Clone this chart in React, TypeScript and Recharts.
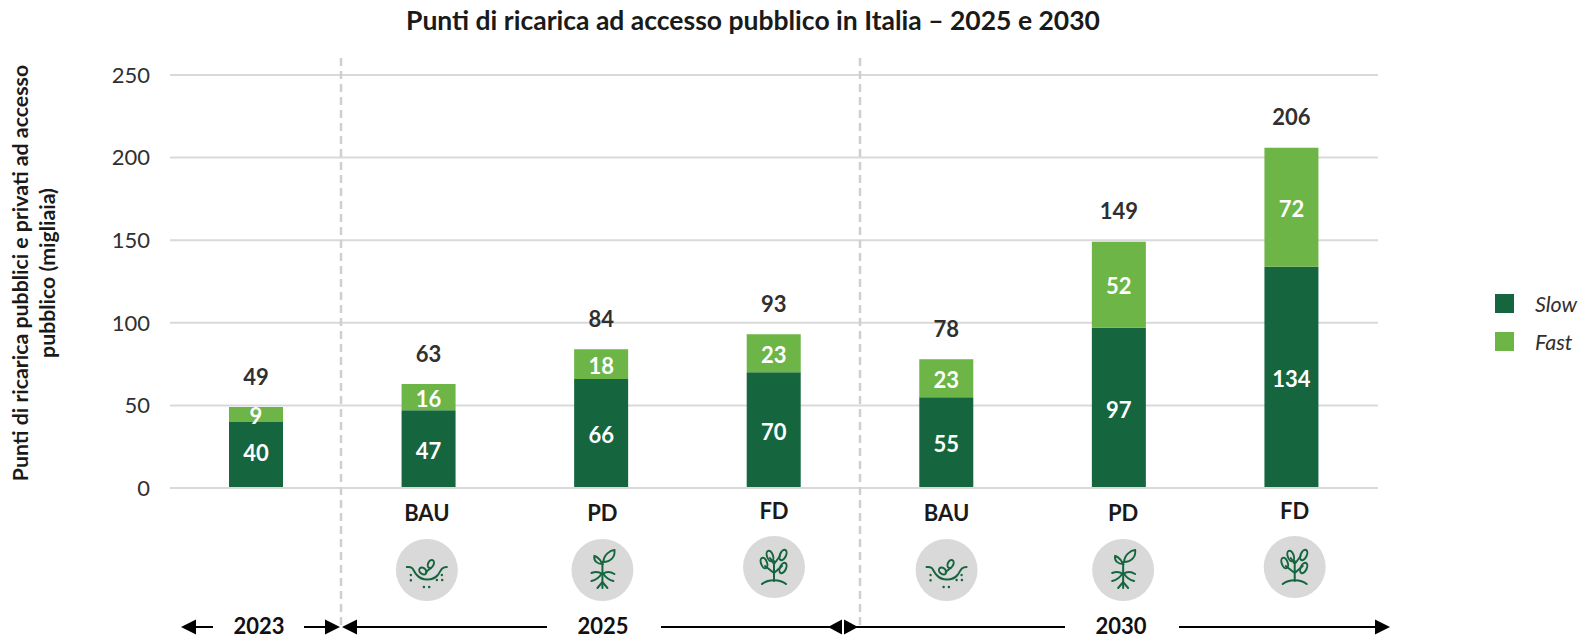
import { Bar, BarChart, CartesianGrid, LabelList, Legend, XAxis, YAxis } from "recharts";

const categories = ["2023", "BAU", "PD", "FD", "BAU ", "PD ", "FD "];
const slowValues = [40, 47, 66, 70, 55, 97, 134];
const fastValues = [9, 16, 18, 23, 23, 52, 72];
const totals = [49, 63, 84, 93, 78, 149, 206];
const yTicks = [0, 50, 100, 150, 200, 250];

const data = categories.map((name, i) => ({
  name,
  slow: slowValues[i],
  fast: fastValues[i],
  total: totals[i],
}));

const FONT = "Lato, 'Open Sans', sans-serif";
const DARK = "#15663F";
const LIGHT = "#6CB546";
const INK = "#303030";

// hand nudges, the reference's icons don't sit exactly under the bars
const tickDx = [0, -2, 1, 0, 0, 4, 3];
const tickDy = [0, 0, 0, -2, 0, 0, -2];
const iconKind = [null, "soil", "sprout", "plant", "soil", "sprout", "plant"];

const Icon = ({ kind }: { kind: string }) => {
  const common = { fill: "none", stroke: DARK, strokeWidth: 2, strokeLinecap: "round" as const };
  if (kind === "soil") {
    return (
      <g {...common}>
        <path d="M-20,-3 C-13,-4 -14,1 -10,5 C-5,11 6,11 11,5 C14,1 14,-3 20,-3" />
        <ellipse cx="-4" cy="1" rx="3" ry="4" transform="rotate(-50 -4 1)" />
        <ellipse cx="4" cy="-6" rx="2.8" ry="4.2" transform="rotate(25 4 -6)" />
        <path d="M-1,2 L4,-2" />
        <g strokeWidth={2.4} strokeDasharray="0.1 5.2">
          <path d="M-16,5 L-16,11" />
          <path d="M-3,17 L3,17" />
          <path d="M10,10 L16,10" />
          <path d="M15,5 L15,6" />
        </g>
      </g>
    );
  }
  if (kind === "sprout") {
    return (
      <g {...common}>
        <path d="M0,18 L0,-8" />
        <path d="M0,-6 C-3,-13 -8,-14 -8,-14 C-9,-9 -5,-6 0,-6 Z" />
        <path d="M1,-8 C1,-15 8,-20 12,-20 C13,-13 8,-8 1,-8 Z" />
        <path d="M-11,3 C-6,1 -3,2 0,4 C3,2 7,1 12,4" />
        <path d="M-11,11 C-6,10 -3,7 -1,4 M11,11 C6,10 3,7 1,4" />
        <path d="M-5,18 L0,12 L5,18" />
      </g>
    );
  }
  return (
    <g {...common}>
      <path d="M-12,17 C-6,12 6,12 12,17" />
      <path d="M0,14 L0,-6 M0,6 L-9,-1 M0,6 L8,-1 M0,-3 L-4,-9 M0,-3 L6,-11" />
      <ellipse cx="-10" cy="-4" rx="3" ry="5.5" transform="rotate(-20 -10 -4)" />
      <ellipse cx="9" cy="1" rx="3" ry="5.5" transform="rotate(25 9 1)" />
      <ellipse cx="-4" cy="-11" rx="3" ry="5.5" transform="rotate(-20 -4 -11)" />
      <ellipse cx="9" cy="-12" rx="3" ry="5.5" transform="rotate(25 9 -12)" />
    </g>
  );
};

const ScenarioTick = ({ x, y, payload, index }: any) => {
  const kind = iconKind[index];
  if (!kind) return null;
  const label = String(payload.value).trim();
  return (
    <g transform={`translate(${x + tickDx[index]},${y + tickDy[index]})`}>
      <text y={19} textAnchor="middle" dominantBaseline="middle" fontFamily={FONT} fontWeight={700} fontSize={22} fill="#1a1a1a">
        {label}
      </text>
      <g transform={`translate(0,${kind === "plant" ? 73 : 74})`}>
        <circle r={31} fill="#D9D9D9" />
        <Icon kind={kind} />
      </g>
    </g>
  );
};

const TotalLabel = ({ x, y, width, value }: any) => (
  <text x={x + width / 2} y={y - 28} textAnchor="middle" dominantBaseline="middle" fontFamily={FONT} fontWeight={700} fontSize={22} fill={INK}>
    {value}
  </text>
);

// the "40" sits a bit higher in its bar than the other labels
const InnerLabel = ({ x, y, width, height, value }: any) => (
  <text x={x + width / 2} y={y + height / 2 + (value === 40 ? 0.5 : 4)} textAnchor="middle" dominantBaseline="middle" fontFamily={FONT} fontWeight={700} fontSize={22} fill="#fff">
    {value}
  </text>
);

const legendItems = [
  { label: "Slow", color: DARK },
  { label: "Fast", color: LIGHT },
];

const ChartLegend = () => (
  <div style={{ position: "absolute", left: 1495, top: 294, fontFamily: FONT, fontStyle: "italic", fontSize: 21.5, color: INK, whiteSpace: "nowrap" }}>
    {legendItems.map((item) => (
      <div key={item.label} style={{ display: "flex", alignItems: "center", height: 19, marginBottom: 19 }}>
        <span style={{ width: 19, height: 19, background: item.color, marginRight: 21 }} />
        {item.label}
      </div>
    ))}
  </div>
);

const Head = ({ tip, dir, len = 15 }: { tip: number; dir: 1 | -1; len?: number }) => (
  <path d={`M${tip},627 L${tip - dir * len},619.5 L${tip - dir * len},634.5 Z`} fill="#000" />
);

const Rule = ({ x1, x2 }: { x1: number; x2: number }) => (
  <line x1={x1} x2={x2} y1={627} y2={627} stroke="#000" strokeWidth={2} />
);

const yearLabels = [
  { text: "2023", x: 259 },
  { text: "2025", x: 603 },
  { text: "2030", x: 1121 },
];

const Overlay = () => (
  <svg width={1580} height={638} style={{ position: "absolute", left: 0, top: 0, pointerEvents: "none" }}>
    <text x={753} y={23} textAnchor="middle" dominantBaseline="middle" fontFamily={FONT} fontWeight={700} fontSize={26.5} fill="#1a1a1a">
      Punti di ricarica ad accesso pubblico in Italia – 2025 e 2030
    </text>
    <text transform="translate(23,273) rotate(-90)" textAnchor="middle" dominantBaseline="middle" fontFamily={FONT} fontWeight={700} fontSize={21.3} fill="#1a1a1a">
      Punti di ricarica pubblici e privati ad accesso
    </text>
    <text transform="translate(50,273) rotate(-90)" textAnchor="middle" dominantBaseline="middle" fontFamily={FONT} fontWeight={700} fontSize={21.3} fill="#1a1a1a">
      pubblico (migliaia)
    </text>
    <line x1={341} x2={341} y1={58} y2={626} stroke="#CFCFCF" strokeWidth={2.5} strokeDasharray="8 5" />
    <line x1={860} x2={860} y1={58} y2={626} stroke="#CFCFCF" strokeWidth={2.5} strokeDasharray="8 5" />
    {yearLabels.map((y) => (
      <text key={y.text} x={y.x} y={628} textAnchor="middle" dominantBaseline="middle" fontFamily={FONT} fontWeight={700} fontSize={22} fill="#111">
        {y.text}
      </text>
    ))}
    <Rule x1={190} x2={213} />
    <Head tip={181} dir={-1} />
    <Rule x1={304} x2={330} />
    <Head tip={340} dir={1} />
    <Rule x1={350} x2={547} />
    <Head tip={342} dir={-1} />
    <Rule x1={661} x2={835} />
    <Head tip={828} dir={-1} len={14} />
    <Head tip={858} dir={1} len={14} />
    <Rule x1={850} x2={1065} />
    <Rule x1={1179} x2={1385} />
    <Head tip={1390} dir={1} />
  </svg>
);

export default function App() {
  return (
    <div style={{ position: "absolute", left: 0, top: 0, width: 1580, height: 638, background: "#fff" }}>
      <BarChart width={1580} height={638} data={data} barSize={54} margin={{ top: 75, right: 202, bottom: 0, left: 0 }}>
        <CartesianGrid vertical={false} stroke="#D9D9D9" strokeWidth={2} />
        <XAxis dataKey="name" height={150} interval={0} axisLine={{ stroke: "#D9D9D9", strokeWidth: 2 }} tickLine={false} tick={<ScenarioTick />} />
        <YAxis
          width={170}
          domain={[0, 250]}
          ticks={yTicks}
          axisLine={false}
          tickLine={false}
          tickMargin={14}
          tick={{ fontFamily: FONT, fontSize: 22, fill: INK }}
        />
        <Legend content={<ChartLegend />} wrapperStyle={{ left: 0, top: 0, bottom: "auto", width: 0, height: 0 }} />
        <Bar dataKey="slow" stackId="a" fill={DARK} isAnimationActive={false}>
          <LabelList dataKey="slow" content={<InnerLabel />} />
        </Bar>
        <Bar dataKey="fast" stackId="a" fill={LIGHT} isAnimationActive={false}>
          <LabelList dataKey="fast" content={<InnerLabel />} />
          <LabelList dataKey="total" content={<TotalLabel />} />
        </Bar>
      </BarChart>
      <Overlay />
    </div>
  );
}
